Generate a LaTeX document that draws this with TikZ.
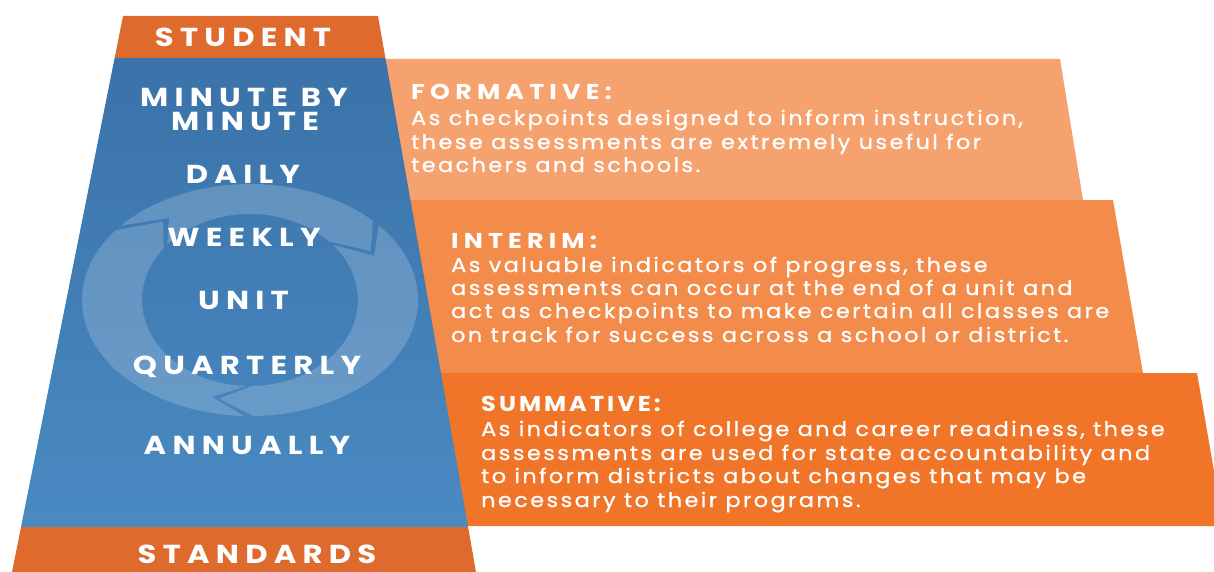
\documentclass[tikz,border=0pt]{standalone}
\usepackage{fontspec}
\setmainfont{Poppins}
\newfontfamily\lblfont{Poppins}[FakeStretch=1.18, LetterSpace=24]
\newfontfamily\hdfont{Poppins}[FakeStretch=1.18, LetterSpace=24]
\newfontfamily\hdsfont{Poppins}[FakeStretch=1.12, LetterSpace=14]
\newfontfamily\bdfont{Poppins}[FakeStretch=1.12, LetterSpace=12, FakeBold=0.8]
\usetikzlibrary{calc}
\definecolor{formc}{HTML}{F5A26F}
\definecolor{intc}{HTML}{F38B4B}
\definecolor{sumc}{HTML}{F07529}
\definecolor{barc}{HTML}{DE6A2D}
\definecolor{blueT}{HTML}{3A72A9}
\definecolor{blueM}{HTML}{4E90C8}
\definecolor{blueB}{HTML}{4A8AC2}
\tikzset{
  lbl/.style={text=white, font=\lblfont\bfseries\fontsize{26}{26}\selectfont, inner sep=0, anchor=base},
  hd/.style={text=white, font=\hdfont\bfseries\fontsize{21.5}{21.5}\selectfont, inner sep=0, anchor=base west},
  hds/.style={text=white, font=\hdsfont\bfseries\fontsize{21.5}{21.5}\selectfont, inner sep=0, anchor=base west},
  bd/.style={text=white, font=\bdfont\fontsize{20}{20}\selectfont, inner sep=0, anchor=base west},
  ringc/.style={fill=white, fill opacity=0.19}
}
\begin{document}
\begin{tikzpicture}[x=1pt,y=-1pt]
\useasboundingbox (0,0) rectangle (1214,572);
% orange bands
\fill[formc] (370,59) -- (1060,59) -- (1083,200) -- (370,200) -- cycle;
\fill[intc] (370,200) -- (1113,200) -- (1143,373) -- (370,373) -- cycle;
\fill[sumc] (370,373) -- (1197,373) -- (1214,471) -- (1214,526) -- (370,526) -- cycle;
% blue trapezoid
\shade[top color=blueT, middle color=blueM, bottom color=blueB] (114.6,58) -- (385.4,58) -- (468.1,527) -- (21,527) -- cycle;
\fill[barc] (123,16) -- (378,16) -- (385.4,58) -- (114.6,58) -- cycle;
\fill[barc] (21,527) -- (468.1,527) -- (476,572) -- (12,572) -- cycle;
% cycle arrows
\coordinate (C) at (250,300);
\def\h{14}
\def\g{3}
\begin{scope}
\clip (114.6,58) -- (385.4,58) -- (468.1,527) -- (21,527) -- cycle;
\foreach \p/\n in {-129/-29, -29/103, 103/231} {
  \pgfmathsetmacro\ta{\p-\h+\g}
  \pgfmathsetmacro\hb{\n-\h}
  \pgfmathsetmacro\nt{\p+\g}
  \fill[ringc] ($(C)+(\ta:168 and 116)$) arc[start angle=\ta, end angle=\hb, x radius=168, y radius=116]
    -- ($(C)+(\n:138 and 101)$) -- ($(C)+(\hb:108 and 86)$)
    arc[start angle=\hb, end angle=\ta, x radius=108, y radius=86]
    -- ($(C)+(\nt:138 and 101)$) -- cycle;
}
\end{scope}
% left labels
\node[lbl] (student) at (243,47) {STUDENT};
\node[lbl] (mbm1) at (244,107) {MINUTE BY};
\node[lbl] (mbm2) at (245,131) {MINUTE};
\node[lbl] (daily) at (243,183) {DAILY};
\node[lbl] (weekly) at (244,246) {WEEKLY};
\node[lbl] (unit) at (243.5,309) {UNIT};
\node[lbl] (quarterly) at (247,374) {QUARTERLY};
\node[lbl] (annually) at (247,454) {ANNUALLY};
\node[lbl] (standards) at (257,563) {STANDARDS};
% formative
\node[hd] (fh) at (411,100) {FORMATIVE:};
\node[bd] (f1) at (411,125) {As checkpoints designed to inform instruction,};
\node[bd] (f2) at (411,149) {these assessments are extremely useful for};
\node[bd] (f3) at (411,172) {teachers and schools.};
% interim
\node[hd] (ih) at (451,248) {INTERIM:};
\node[bd] (i1) at (451,272) {As valuable indicators of progress, these};
\node[bd] (i2) at (451,295) {assessments can occur at the end of a unit and};
\node[bd] (i3) at (451,318) {act as checkpoints to make certain all classes are};
\node[bd] (i4) at (451,342) {on track for success across a school or district.};
% summative
\node[hds] (sh) at (481,411) {SUMMATIVE:};
\node[bd] (s1) at (481,436) {As indicators of college and career readiness, these};
\node[bd] (s2) at (481,460) {assessments are used for state accountability and};
\node[bd] (s3) at (481,483) {to inform districts about changes that may be};
\node[bd] (s4) at (481,507) {necessary to their programs.};
\end{tikzpicture}
\end{document}
